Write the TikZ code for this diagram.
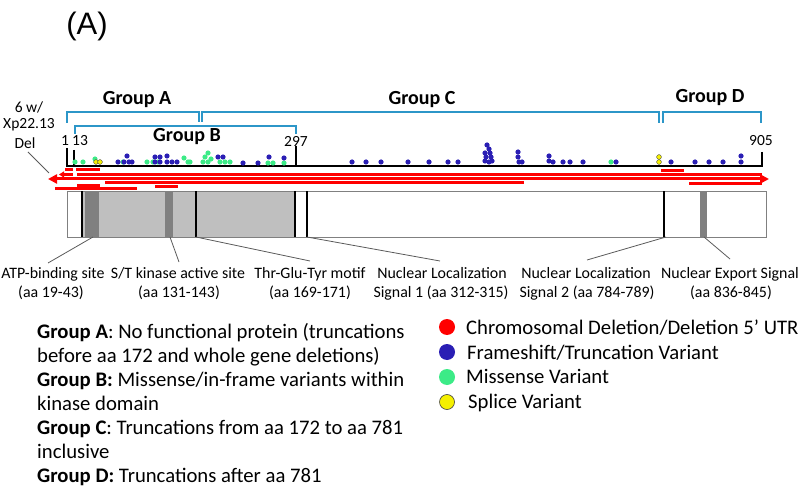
\documentclass[tikz,border=0pt]{standalone}
\usepackage{fontspec}
\setmainfont{Carlito}
\newfontfamily\arialf{Liberation Sans}
\usetikzlibrary{arrows.meta}
\definecolor{brk}{RGB}{44,150,200}
\definecolor{dblue}{RGB}{42,30,180}
\definecolor{mgreen}{RGB}{60,235,135}
\definecolor{syellow}{RGB}{245,240,0}
\definecolor{lgray}{RGB}{191,191,191}
\definecolor{dgray}{RGB}{128,128,128}
\definecolor{conng}{RGB}{90,90,90}
\begin{document}
\begin{tikzpicture}[x=1pt,y=-1pt,
  bracket/.style={draw=brk, line width=1.8pt},
  grp/.style={font=\fontsize{20}{24}\selectfont\bfseries, inner sep=0pt},
  num/.style={font=\fontsize{15.5}{18}\selectfont, inner sep=0pt},
  lab/.style={font=\fontsize{15.9}{18}\selectfont, inner sep=0pt, anchor=base},
  leg/.style={font=\fontsize{20.7}{24}\selectfont, inner sep=0pt, anchor=base west},
  del/.style={draw=red, line width=3pt},
  bar/.style={fill=black},
  conn/.style={draw=conng, line width=0.8pt},
  bdot/.style={fill=dblue},
  gdot/.style={fill=mgreen},
  ydot/.style={fill=syellow, draw=black!70, line width=0.4pt},
  legdot/.style={circle, minimum size=16pt, inner sep=0pt}]
\useasboundingbox (0,0) rectangle (800,486);

% title
\node[font=\arialf\fontsize{31}{34}\selectfont, inner sep=0pt] (title) at (87,26) {(A)};

% brackets
\draw[bracket] (67,123) -- (67,112) -- (199,112) -- (199,122);
\draw[bracket] (202,122) -- (202,112) -- (659,112) -- (659,123);
\draw[bracket] (663,123) -- (663,112) -- (761,112) -- (761,123);
\draw[bracket] (75,134) -- (75,126) -- (296,126) -- (296,134);
\node[grp] (gA) at (137,100) {Group A};
\node[grp] (gB) at (187,137) {Group B};
\node[grp] (gC) at (422,100) {Group C};
\node[grp] (gD) at (710,98) {Group D};

% Xp22.13 label
\node[num] (xa) at (29,107) {6 w/};
\node[num] (xb) at (29,125) {Xp22.13};
\node[num] (xc) at (25,143) {Del};
\coordinate (xs) at (28,152);
\coordinate (xe) at (49,173);
\draw[conn] (xs) -- (xe);

% axis
\draw[line width=1.6pt] (66,166) -- (763,166);
\draw[line width=1.6pt] (67,148) -- (67,166);
\draw[line width=1.6pt] (74,150) -- (74,166);
\draw[line width=1.6pt] (296,146) -- (296,166);
\draw[line width=1.6pt] (762,152) -- (762,166);
\node[num] (n1) at (65,141) {1};
\node[num] (n13) at (80,141) {13};
\node[num] (n297) at (296,141) {297};
\node[num] (n905) at (761,141) {905};

% dots
\foreach \x/\y in {75/162,83/162,95/159,123/162,147/162,153/162,158/162,184/158,188/162,190/162,
  203/162,205/157,208/153,208/162,211/159,220/162,225/162,230/162,268/163,273/163,284/163,611/162}
  \fill[gdot] (\x,\y) circle (2.6pt);
\foreach \x/\y in {118/162,124/162,127/156,129/162,132/162,155/157,155/162,160/157,160/162,
  167/156,167/162,172/162,177/162,218/157,223/157,243/163,258/163,269/157,284/158,
  352/162,366/162,381/162,408/162,429/162,448/162,458/162,
  487/145,489/149,485/153,490/153,486/157,491/157,485/161,489/162,492/161,
  518/152,518/157,519/162,522/162,549/156,549/161,553/162,563/162,570/162,583/162,616/162,
  671/162,695/162,709/162,723/162,741/156,741/162}
  \fill[bdot] (\x,\y) circle (2.6pt);
\foreach \x/\y in {96/162,100/162,659/157,659/162}
  \filldraw[ydot] (\x,\y) circle (2.4pt);

% deletions
\draw[del] (65,170) -- (73,170);
\draw[del] (76,170) -- (100,170);
\draw[del, -{Triangle[length=5pt,width=6pt]}] (73,174.5) -- (59,174.5);
\draw[del] (77,175) -- (762,175);
\draw[del, {Triangle[length=9pt,width=9pt]}-{Triangle[length=9pt,width=9pt]}] (48,179) -- (769,179);
\draw[del] (105,183) -- (524,183);
\draw[del] (77,185.5) -- (100,185.5);
\draw[del] (55,188.5) -- (137,188.5);
\draw[del] (155,187) -- (178,187);
\draw[del] (661,171) -- (684,171);
\draw[del] (689,184) -- (762,184);

% protein box
\fill[white] (67,191) rectangle (766,237);
\fill[lgray] (82,191) rectangle (295,237);
\fill[dgray] (85,191) rectangle (99,237);
\fill[dgray] (165,191) rectangle (173,237);
\fill[dgray] (700,191) rectangle (707,237);
\draw[draw=dgray, line width=0.8pt] (67,191) rectangle (766,237);
\foreach \x in {82,196,295,307,664}
  \fill[bar] (\x-1.4,191) rectangle (\x+1.4,237);

% domain labels
\node[lab] (l1a) at (53,279) {ATP-binding site};
\node[lab] (l1b) at (51,298) {(aa 19-43)};
\node[lab] (l2a) at (178,279) {S/T kinase active site};
\node[lab] (l2b) at (179,298) {(aa 131-143)};
\node[lab] (l3a) at (310,279) {Thr-Glu-Tyr motif};
\node[lab] (l3b) at (310,298) {(aa 169-171)};
\node[lab] (l4a) at (442,279) {Nuclear Localization};
\node[lab] (l4b) at (441,298) {Signal 1 (aa 312-315)};
\node[lab] (l5a) at (586,279) {Nuclear Localization};
\node[lab] (l5b) at (587,298) {Signal 2 (aa 784-789)};
\node[lab] (l6a) at (730,279) {Nuclear Export Signal};
\node[lab] (l6b) at (731,298) {(aa 836-845)};

\coordinate (c1s) at (93,237);  \coordinate (c1e) at (48,263);
\coordinate (c2s) at (170,237); \coordinate (c2e) at (179,262);
\coordinate (c3s) at (196,237); \coordinate (c3e) at (310,261);
\coordinate (c4s) at (307,237); \coordinate (c4e) at (440,261);
\coordinate (c5s) at (666,237); \coordinate (c5e) at (587,260);
\coordinate (c6s) at (704,237); \coordinate (c6e) at (730,259);
\draw[conn] (c1s) -- (c1e);
\draw[conn] (c2s) -- (c2e);
\draw[conn] (c3s) -- (c3e);
\draw[conn] (c4s) -- (c4e);
\draw[conn] (c5s) -- (c5e);
\draw[conn] (c6s) -- (c6e);

% group legend
\node[leg] (t1) at (37,338) {\textbf{Group A}: No functional protein (truncations};
\node[leg] (t2) at (37,362) {before aa 172 and whole gene deletions)};
\node[leg] (t3) at (37,386) {\textbf{Group B:} Missense/in-frame variants within};
\node[leg] (t4) at (37,410) {kinase domain};
\node[leg] (t5) at (37,434) {\textbf{Group C}: Truncations from aa 172 to aa 781};
\node[leg] (t6) at (37,458) {inclusive};
\node[leg] (t7) at (37,482) {\textbf{Group D:} Truncations after aa 781};

% variant legend
\node[legdot, fill=red] (k1) at (447,327) {};
\node[legdot, fill=dblue] (k2) at (447,352) {};
\node[legdot, fill=mgreen] (k3) at (447,377) {};
\node[legdot, fill=syellow, draw=black!75, line width=0.6pt, minimum size=15pt] (k4) at (447,402) {};
\node[leg] (v1) at (466,334) {Chromosomal Deletion/Deletion 5’ UTR};
\node[leg] (v2) at (467,359) {Frameshift/Truncation Variant};
\node[leg] (v3) at (466,383) {Missense Variant};
\node[leg] (v4) at (468,408) {Splice Variant};
\end{tikzpicture}
\end{document}
